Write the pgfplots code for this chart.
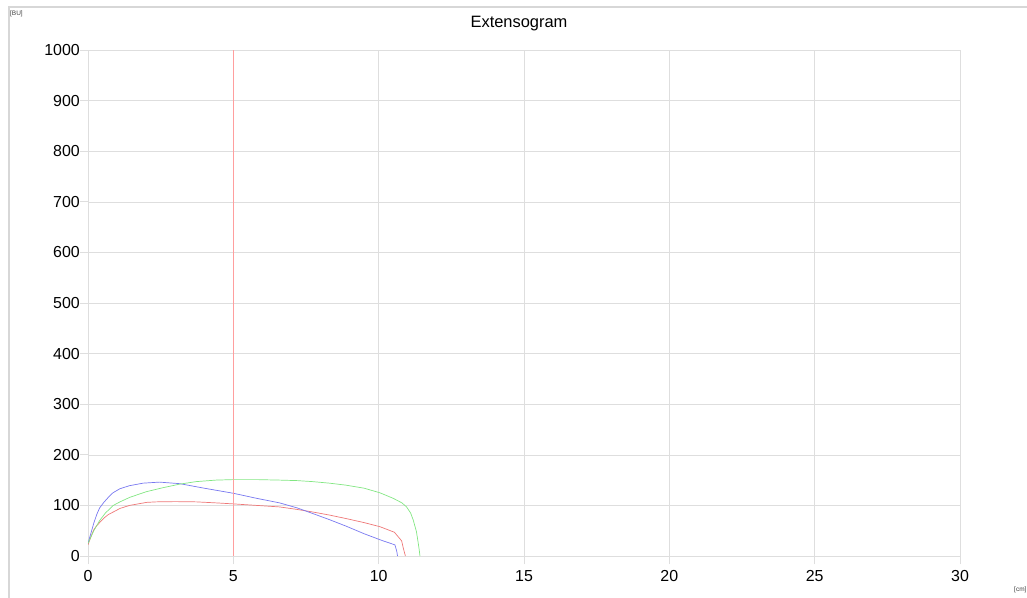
\documentclass[border=0pt]{standalone}
\usepackage{pgfplots}
\pgfplotsset{compat=1.18}
\usepackage{fontspec}
\setmainfont{Liberation Sans}
\definecolor{cblue}{RGB}{120,120,240}
\definecolor{cred}{RGB}{238,120,120}
\definecolor{cgreen}{RGB}{130,230,130}
\definecolor{gridc}{RGB}{222,222,222}
\definecolor{framec}{RGB}{215,215,215}
\begin{document}
\begin{tikzpicture}
\path[use as bounding box] (0,0) rectangle (1027bp,-598bp);
\draw[framec, line width=1.2bp] (9bp,-598bp) -- (9bp,-7bp) -- (1030bp,-7bp);
\node[font=\fontsize{6.5}{7}\selectfont, anchor=west, inner sep=0pt, text=black!75] at (10bp,-14bp) {[BU]};
\node[font=\fontsize{6.5}{7}\selectfont, anchor=west, inner sep=0pt, text=black!75] at (1014bp,-590bp) {[cm]};
\node[font=\fontsize{16.5}{17}\selectfont, inner sep=0pt] at (519bp,-24bp) {Extensogram};
\begin{axis}[
  at={(88bp,-556bp)}, anchor=south west,
  scale only axis, width=872bp, height=506bp,
  xmin=0, xmax=30, ymin=0, ymax=1000,
  xtick={0,10,15,20,25,30}, ytick={0,100,...,1000},
  extra x ticks={5}, extra x tick style={xmajorgrids=false},
  xtick pos=bottom, ytick pos=left,
  grid=major, grid style={gridc, line width=0.6bp},
  axis line style={gridc, line width=1bp},
  tick style={gridc, line width=0.8bp},
  tick align=outside, major tick length=8bp,
  ticklabel style={font=\fontsize{16}{17}\selectfont},
  yticklabel style={inner xsep=1bp, xshift=1bp},
  xticklabel style={inner ysep=2bp, yshift=-4bp},
  /pgf/number format/assume math mode=true,
  /pgf/number format/1000 sep={},
]
% red
\addplot[cred, line width=0.7bp] coordinates {
(0,22) (0.1,38) (0.2,52) (0.3,60) (0.4,66) (0.55,75) (0.7,82) (0.87,87) (1.1,94) (1.43,100) (2.02,106) (2.35,107) (3,107.5) (3.72,107) (4.4,105) (5,103) (5.8,100) (6.59,97) (7.2,92) (7.73,87) (8.3,81) (8.88,74) (9.5,66) (10.04,58) (10.54,47) (10.79,30) (10.85,15) (10.92,0)};
% blue
\addplot[cblue, line width=0.7bp] coordinates {
(0,25) (0.1,45) (0.2,65) (0.3,82) (0.4,95) (0.53,105) (0.7,116) (0.86,125) (1.1,133) (1.43,139) (1.9,144) (2.46,146) (3.15,143) (4,134) (5,124) (5.8,114) (6.59,105) (7.2,95) (7.73,84) (8.3,72) (8.88,59) (9.5,44) (10.1,31) (10.56,22) (10.62,10) (10.65,0)};
% green
\addplot[cgreen, line width=0.7bp] coordinates {
(0,25) (0.2,50) (0.4,70) (0.6,85) (0.87,100) (1.1,107) (1.44,116) (2,127) (2.58,135) (3.15,142) (3.72,147) (4.4,150) (5,151) (5.8,151) (6.59,150) (7.2,149) (7.73,147) (8.3,144) (8.88,140) (9.5,134) (10.04,125) (10.5,114) (10.8,105) (10.96,97) (11.1,85) (11.19,71) (11.3,48) (11.36,26) (11.4,10) (11.42,0)};
\draw[red!38!white, line width=0.9bp] (axis cs:5,0) -- (axis cs:5,1000);
\end{axis}
\end{tikzpicture}
\end{document}
